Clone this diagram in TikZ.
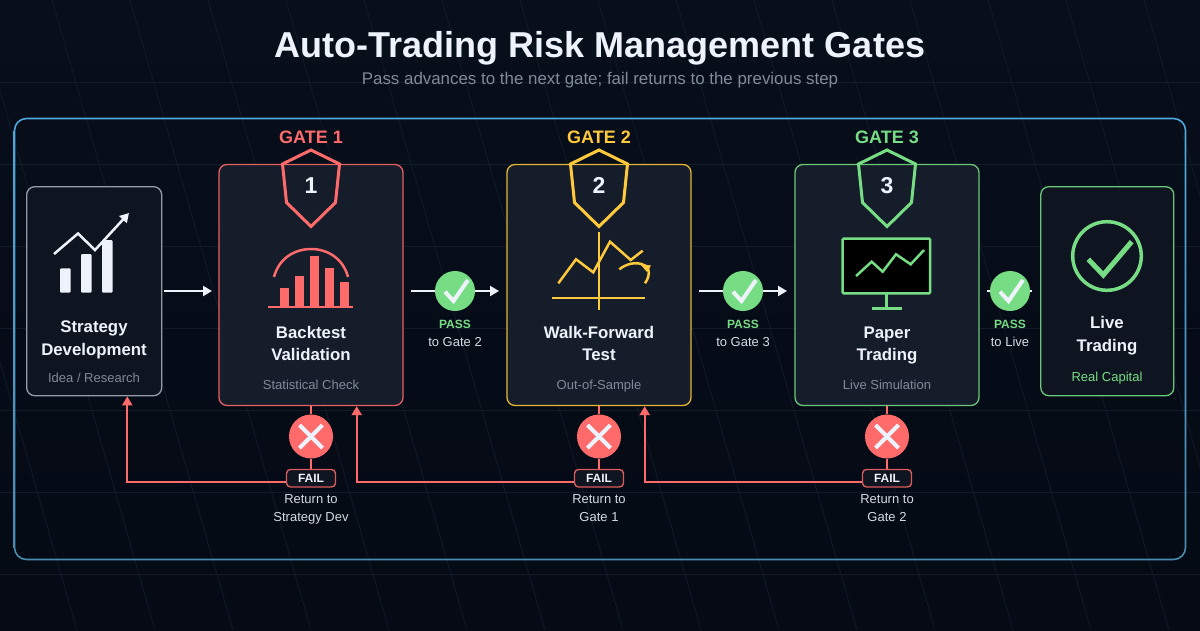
\documentclass[tikz,border=0pt]{standalone}
\usepackage{fontspec}
\setmainfont{Liberation Sans}
\usetikzlibrary{arrows.meta}
\definecolor{redc}{HTML}{FF6B6B}
\definecolor{yelc}{HTML}{FFC93C}
\definecolor{grnc}{HTML}{77DD85}
\definecolor{inkc}{HTML}{EEF2FB}
\definecolor{mutec}{HTML}{808A9A}
\definecolor{gatefill}{HTML}{161D2A}
\definecolor{endfill}{HTML}{0F1520}
\definecolor{gridc}{HTML}{121B2A}
\definecolor{bgtop}{HTML}{070F1B}
\definecolor{bgbot}{HTML}{050A14}
\definecolor{frametop}{HTML}{4FA8DE}
\definecolor{framebot}{HTML}{4A8BB0}
\tikzset{
  gridline/.style={gridc,line width=1pt},
  gridslant/.style={gridc,line width=0.8pt},
  gatecard/.style={rounded corners=8pt,line width=1.3pt,fill=gatefill,minimum width=184pt,minimum height=241pt,inner sep=0pt},
  endcard/.style={rounded corners=8pt,line width=1.3pt,fill=endfill,minimum height=209pt,inner sep=0pt},
  shieldst/.style={line width=3pt,line join=miter},
  gatelabel/.style={anchor=base,font=\bfseries\fontsize{18}{20}\selectfont},
  gatenum/.style={anchor=base,font=\bfseries\fontsize{23}{25}\selectfont,text=inkc},
  cardtitle/.style={anchor=base,font=\bfseries\fontsize{16.8}{19}\selectfont,text=inkc},
  cardsub/.style={anchor=base,font=\fontsize{13}{15}\selectfont,text=mutec},
  passlabel/.style={anchor=base,font=\bfseries\fontsize{12}{14}\selectfont,text=grnc},
  smalltext/.style={anchor=base,font=\fontsize{13}{15}\selectfont,text=inkc!90!black},
  passdot/.style={circle,fill=grnc,minimum size=40pt,inner sep=0pt},
  faildot/.style={circle,fill=redc,minimum size=44pt,inner sep=0pt},
  failbox/.style={draw=redc!85!black,fill=endfill,rounded corners=4pt,line width=1.4pt,minimum width=49pt,minimum height=17.5pt,inner sep=0pt,text height=8.6pt,text depth=0pt,text=inkc,font=\bfseries\fontsize{12}{14}\selectfont},
  flow/.style={draw=inkc,line width=2pt,-{Stealth[length=9pt,width=10pt,inset=0pt]}},
  backflow/.style={draw=redc,line width=2pt,-{Stealth[length=9pt,width=10pt,inset=0pt]}},
  stem/.style={draw=redc,line width=2pt},
  tick/.style={draw=inkc,line width=4pt,line cap=butt,line join=miter},
  cross/.style={draw=inkc,line width=4pt},
  iconline/.style={line width=2.5pt,line join=miter},
}
\begin{document}
\begin{tikzpicture}[x=1pt,y=-1pt]
\useasboundingbox (0,0) rectangle (1200,630);
\shade[top color=bgtop,bottom color=bgbot] (0,0) rectangle (1200,630);
% background grid
\foreach \yy in {82,164,246,328,410,492,574}{\draw[gridline] (0,\yy) -- (1200,\yy);}
\foreach \xx in {-182,-104,-26,52,130,208,286,364,442,520,598,676,754,832,910,988,1066,1144}{%
  \draw[gridslant] (\xx,0) -- ({\xx+181},630);}
% outer frame
\shade[top color=frametop,bottom color=framebot,even odd rule]
  [rounded corners=12.8pt] (13.7,117.7) rectangle (1186.3,560.3)
  [rounded corners=11.2pt] (15.3,119.3) rectangle (1184.7,558.7);

% ---- cards
\node[draw=mutec!85!white,endcard,minimum width=135pt] (sd) at (94.2,291.2) {};
\node[draw=redc!90!black,gatecard] (g1) at (311,285) {};
\node[draw=yelc!90!black,gatecard] (g2) at (599,285) {};
\node[draw=grnc!90!black,gatecard] (g3) at (887,285) {};
\node[draw=grnc!90!black,endcard,minimum width=133pt] (lt) at (1107.3,291.2) {};

% ---- shields
\foreach \cx/\col/\num/\nm in {311/redc/1/a,599/yelc/2/b,887/grnc/3/c}{
  \draw[shieldst,draw=\col] (\cx,150) -- (\cx+28.5,164) -- (\cx+24.5,202.5) -- (\cx,226.5) -- (\cx-24.5,202.5) -- (\cx-28.5,164) -- cycle;
  \node[gatenum] (num\nm) at (\cx,193.3) {\num};
  \node[gatelabel,text=\col] (lab\nm) at (\cx,143.3) {GATE \num};
}

% ---- icon: strategy
\fill[inkc,rounded corners=1pt] (60,268.3) rectangle (70.7,292.5);
\fill[inkc,rounded corners=1pt] (81,254) rectangle (91.5,292.5);
\fill[inkc,rounded corners=1pt] (102,240) rectangle (112.5,292.5);
\draw[inkc,iconline,-{Stealth[length=9pt,width=10pt,inset=0pt]}] (54,254) -- (78,233.5) -- (95,250) -- (129,213);

% ---- icon: backtest
\fill[redc] (280.3,288) rectangle (289,306);
\fill[redc] (295.3,276) rectangle (304.3,306);
\fill[redc] (310.3,256) rectangle (319,306);
\fill[redc] (325.3,268) rectangle (334,306);
\fill[redc] (340,282) rectangle (349,306);
\draw[redc,line width=2pt] (268,306.7) -- (353,306.7);
\draw[redc,line width=2.5pt] (274,277) .. controls (279,258) and (295,249) .. (311,249) .. controls (327,249) and (343,258) .. (348,277);

% ---- icon: walk-forward
\draw[yelc,line width=2pt] (598.7,231.7) -- (598.7,310);
\draw[yelc,line width=2pt] (552.3,298.3) -- (645,298.3);
\draw[yelc,iconline] (558.3,283.3) -- (576,259.3) -- (593.3,272.3) -- (610,241.7) -- (630.7,260) -- (642.7,250.7);
\draw[yelc,iconline] (619.3,269.3) .. controls (627,263) and (640,260) .. (648,268) .. controls (650,274) and (648,279) .. (645,283.3);
\fill[yelc] (651,265.5) -- (640,264) -- (647,272) -- cycle;

% ---- icon: monitor
\draw[grnc,line width=2.5pt,fill=black,rounded corners=1pt] (842.7,238.7) rectangle (930,293.3);
\draw[grnc,line width=2.5pt] (886.7,293.3) -- (886.7,308.3);
\draw[grnc,line width=2.5pt] (871.5,308.3) -- (901.5,308.3);
\draw[grnc,iconline] (856,276) -- (871.7,261.7) -- (882.7,271.7) -- (896,254.3) -- (910.7,264.3) -- (924,250);

% ---- icon: live
\draw[grnc,line width=3.5pt] (1107,256) circle[radius=34.3];
\draw[grnc,line width=5pt] (1088.3,259.3) -- (1103.3,275) -- (1131.7,241.7);

% ---- card text
\node[cardtitle] (sdt1) at (94,332) {Strategy};
\node[cardtitle] (sdt2) at (94,355) {Development};
\node[cardsub] (sds) at (94,382.3) {Idea / Research};
\node[cardtitle] (g1t1) at (311,338.5) {Backtest};
\node[cardtitle] (g1t2) at (311,360.7) {Validation};
\node[cardsub] (g1s) at (311,389) {Statistical Check};
\node[cardtitle] (g2t1) at (599,338.5) {Walk-Forward};
\node[cardtitle] (g2t2) at (599,360.7) {Test};
\node[cardsub] (g2s) at (599,389) {Out-of-Sample};
\node[cardtitle] (g3t1) at (887,338.5) {Paper};
\node[cardtitle] (g3t2) at (887,360.7) {Trading};
\node[cardsub] (g3s) at (887,389) {Live Simulation};
\node[cardtitle] (ltt1) at (1107,328.4) {Live};
\node[cardtitle] (ltt2) at (1107,351) {Trading};
\node[cardsub,text=grnc] (lts) at (1107,381.5) {Real Capital};

% ---- forward connectors
\coordinate (a0s) at (163.5,291); \coordinate (a0e) at (212,291);
\coordinate (a1s) at (411,291);   \coordinate (a1e) at (499,291);
\coordinate (a2s) at (699,291);   \coordinate (a2e) at (787,291);
\coordinate (a3s) at (987,291);   \coordinate (a3e) at (1032,291);
\draw[flow] (a0s) -- (a0e);
\draw[flow] (a1s) -- (a1e);
\draw[flow] (a2s) -- (a2e);
\draw[draw=inkc,line width=2pt] (a3s) -- (a3e);

\foreach \cx/\nm/\dest in {455/p1/to Gate 2,743/p2/to Gate 3,1010/p3/to Live}{
  \node[passdot] (\nm) at (\cx,291) {};
  \draw[tick] (\cx-10,291.7) -- (\cx-1.5,301) -- (\cx+13,280);
  \node[passlabel] (\nm l) at (\cx,328.3) {PASS};
  \node[smalltext] (\nm t) at (\cx,346.7) {\dest};
}

% ---- fail branches
\foreach \cx/\nm/\cardn in {311/f1/g1,599/f2/g2,887/f3/g3}{
  \node[failbox] (\nm b) at (\cx,478.2) {FAIL};
  \node[faildot] (\nm) at (\cx,436.5) {};
  \draw[stem] (\cardn.south -| \nm) -- (\nm.north);
  \draw[stem] (\nm.south) -- (\nm b.north);
  \draw[cross] (\cx-11.5,425) -- (\cx+11.5,448);
  \draw[cross] (\cx+11.5,425) -- (\cx-11.5,448);
}
\coordinate (ret1) at (127.3,482.3);
\coordinate (ret2) at (356.7,482.3);
\coordinate (ret3) at (644.7,482.3);
\draw[backflow] (f1b.west |- ret1) -- (ret1) -- (sd.south -| ret1);
\draw[backflow] (f2b.west |- ret2) -- (ret2) -- (g1.south -| ret2);
\draw[backflow] (f3b.west |- ret3) -- (ret3) -- (g2.south -| ret3);

\node[smalltext] (r1a) at (311,503.3) {Return to};
\node[smalltext] (r1b) at (311,521.7) {Strategy Dev};
\node[smalltext] (r2a) at (599,503.3) {Return to};
\node[smalltext] (r2b) at (599,521.7) {Gate 1};
\node[smalltext] (r3a) at (887,503.3) {Return to};
\node[smalltext] (r3b) at (887,521.7) {Gate 2};

% ---- title
\node[anchor=base,text=inkc,font=\bfseries\fontsize{36}{40}\selectfont] (title) at (600,57) {Auto-Trading Risk Management Gates};
\node[anchor=base,text=mutec,font=\fontsize{16.9}{19}\selectfont] (subtitle) at (600,84) {Pass advances to the next gate; fail returns to the previous step};
\end{tikzpicture}
\end{document}
